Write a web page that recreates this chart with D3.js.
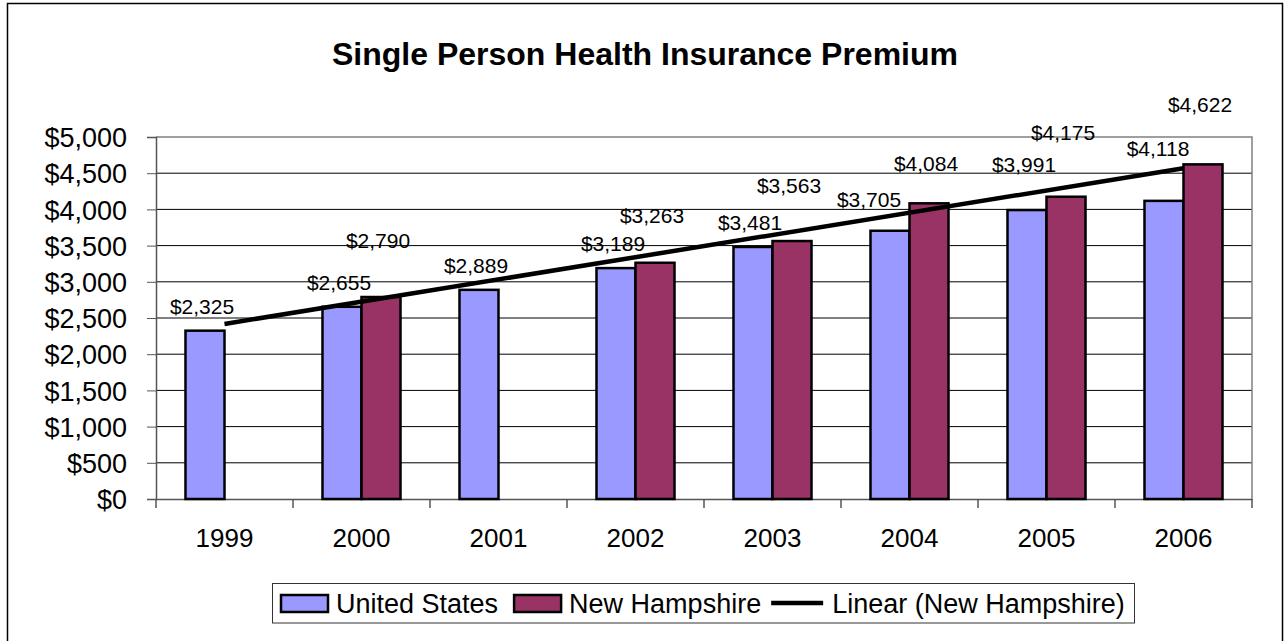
<!DOCTYPE html>
<html>
<head>
<meta charset="utf-8">
<script src="https://cdn.jsdelivr.net/npm/d3@7"></script>
<style>
  body { margin: 0; background: #fff; }
  svg { display: block; font-family: "Liberation Sans", Arial, sans-serif; }
</style>
</head>
<body>
<div id="chart"></div>
<script>
// data
const years = ["1999", "2000", "2001", "2002", "2003", "2004", "2005", "2006"];
const unitedStates = [2325, 2655, 2889, 3189, 3481, 3705, 3991, 4118];
const newHampshire = [null, 2790, null, 3263, 3563, 4084, 4175, 4622];
const yTicks = [0, 500, 1000, 1500, 2000, 2500, 3000, 3500, 4000, 4500, 5000];
const seriesNames = ["United States", "New Hampshire"];
const seriesColors = ["#9999ff", "#993366"];

// label nudges (pixels) - the labels in the original were moved by hand
const usLabelLift = [0, 0, 0, 0, 0, 7, 21, 28];
const nhLabelLift = [0, 32, 0, 23, 31, 15, 40, 35];
const usLabelShift = [0, 0, 0, 0, 0, -18, 0, -3];

var W = 1285, H = 641;
var plot = { left: 156, right: 1252, top: 137, bottom: 499 };

var svg = d3.select("#chart").append("svg")
    .attr("width", W).attr("height", H);

// outer chart border
svg.append("rect")
    .attr("x", 7.5).attr("y", 3.5)
    .attr("width", 1275).attr("height", 660)
    .attr("fill", "#fff").attr("stroke", "#000").attr("stroke-width", 1.5);

var x = d3.scaleBand().domain(years).range([plot.left, plot.right]);
var xInner = d3.scaleBand().domain(seriesNames).range([0, x.bandwidth()]).paddingOuter(0.756);
var y = d3.scaleLinear().domain([0, 5000]).range([plot.bottom, plot.top]);

// gridlines
svg.append("g")
    .selectAll("line")
    .data(yTicks.slice(1, -1))
    .enter().append("line")
    .attr("x1", plot.left).attr("x2", plot.right)
    .attr("y1", d => y(d)).attr("y2", d => y(d))
    .attr("stroke", "#000").attr("stroke-width", 1);

// plot area border (top + right)
svg.append("path")
    .attr("d", "M" + plot.left + "," + plot.top + "H" + plot.right + "V" + plot.bottom)
    .attr("fill", "none").attr("stroke", "#808080").attr("stroke-width", 1.5);

// y axis
var yAxis = svg.append("g")
    .attr("transform", "translate(" + plot.left + ",0)")
    .call(d3.axisLeft(y).tickValues(yTicks).tickSize(9).tickPadding(20)
        .tickFormat(d => "$" + d3.format(",")(d)));
yAxis.select(".domain").attr("stroke", "#555").attr("stroke-width", 1.5);
yAxis.selectAll(".tick line").attr("stroke", "#555");
yAxis.selectAll("text")
    .attr("font-size", 27).attr("fill", "#000")
    .attr("font-family", "Liberation Sans, Arial, sans-serif")
    .attr("dy", "0.36em");

// x axis
var xAxis = svg.append("g")
    .attr("transform", "translate(0," + plot.bottom + ")")
    .call(d3.axisBottom(x).tickSize(0).tickPadding(30));
xAxis.select(".domain").attr("stroke", "#555").attr("stroke-width", 1.5);
xAxis.selectAll("text")
    .attr("font-size", 26).attr("fill", "#000")
    .attr("font-family", "Liberation Sans, Arial, sans-serif");
// category boundary ticks
xAxis.selectAll(".bound")
    .data(years.concat(["end"]))
    .enter().append("line")
    .attr("class", "bound")
    .attr("x1", (d, i) => plot.left + i * x.step())
    .attr("x2", (d, i) => plot.left + i * x.step())
    .attr("y1", 0).attr("y2", 9)
    .attr("stroke", "#555").attr("stroke-width", 1.5);

// bars
var seriesData = [unitedStates, newHampshire];
var bars = [];
seriesData.forEach(function (vals, s) {
    vals.forEach(function (v, i) {
        if (v !== null) bars.push({ s: s, i: i, v: v });
    });
});

svg.append("g")
    .selectAll("rect")
    .data(bars)
    .enter().append("rect")
    .attr("x", d => x(years[d.i]) + xInner(seriesNames[d.s]))
    .attr("y", d => y(d.v))
    .attr("width", xInner.bandwidth())
    .attr("height", d => y(0) - y(d.v))
    .attr("fill", d => seriesColors[d.s])
    .attr("stroke", "#000").attr("stroke-width", 2.5);

// linear trend of New Hampshire (least squares on category index)
var pts = [];
newHampshire.forEach(function (v, i) { if (v !== null) pts.push([i + 1, v]); });
var mx = d3.mean(pts, p => p[0]), my = d3.mean(pts, p => p[1]);
var slope = d3.sum(pts, p => (p[0] - mx) * (p[1] - my)) / d3.sum(pts, p => (p[0] - mx) * (p[0] - mx));
var icpt = my - slope * mx;
var trend = [1, years.length].map(k => [x(years[k - 1]) + x.bandwidth() / 2, y(icpt + slope * k)]);

svg.append("path")
    .attr("d", d3.line()(trend))
    .attr("stroke", "#000").attr("stroke-width", 4.5).attr("fill", "none");

// data labels
var money = v => "$" + d3.format(",")(v);
svg.append("g")
    .selectAll("text")
    .data(bars)
    .enter().append("text")
    .attr("x", d => x(years[d.i]) + xInner(seriesNames[d.s]) + xInner.bandwidth() / 2 - 3
        + (d.s === 0 ? usLabelShift[d.i] : 0))
    .attr("y", d => y(d.v) - 17 - (d.s === 0 ? usLabelLift[d.i] : nhLabelLift[d.i]))
    .attr("text-anchor", "middle")
    .attr("font-size", 21)
    .text(d => money(d.v));

// title
svg.append("text")
    .attr("x", 645).attr("y", 65)
    .attr("text-anchor", "middle")
    .attr("font-size", 32).attr("font-weight", "bold")
    .text("Single Person Health Insurance Premium");

// legend
var legend = svg.append("g");
legend.append("rect")
    .attr("x", 272.5).attr("y", 583.5)
    .attr("width", 862).attr("height", 39.5)
    .attr("fill", "#fff").attr("stroke", "#333").attr("stroke-width", 1);

var items = [
    { name: seriesNames[0], type: "box", color: seriesColors[0] },
    { name: seriesNames[1], type: "box", color: seriesColors[1] },
    { name: "Linear (New Hampshire)", type: "line", color: "#000" }
];
var lx = 281, ly = 603;
items.forEach(function (it) {
    if (it.type === "box") {
        legend.append("rect")
            .attr("x", lx).attr("y", ly - 8)
            .attr("width", 47).attr("height", 17)
            .attr("fill", it.color).attr("stroke", "#000").attr("stroke-width", 2.5);
    } else {
        legend.append("line")
            .attr("x1", lx - 6).attr("x2", lx + 46)
            .attr("y1", ly).attr("y2", ly)
            .attr("stroke", "#000").attr("stroke-width", 4.5);
    }
    var t = legend.append("text")
        .attr("x", lx + 55).attr("y", ly + 9.5)
        .attr("font-size", 27)
        .text(it.name);
    lx = lx + 55 + t.node().getComputedTextLength() + 16;
});
</script>
</body>
</html>
